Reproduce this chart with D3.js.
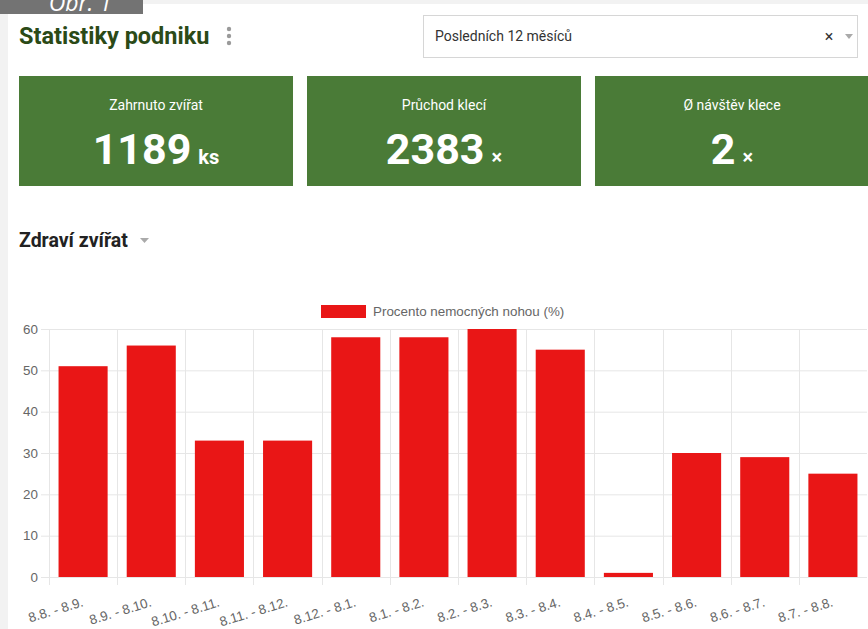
<!DOCTYPE html>
<html>
<head>
<meta charset="utf-8">
<script src="https://cdn.jsdelivr.net/npm/d3@7"></script>
<style>
  body { margin: 0; background: #f2f2f2; }
  svg { display: block; }
</style>
</head>
<body>
<div id="chart"></div>
<script>
// chart data
const categories = ["8.8. - 8.9.", "8.9. - 8.10.", "8.10. - 8.11.", "8.11. - 8.12.", "8.12. - 8.1.", "8.1. - 8.2.",
    "8.2. - 8.3.", "8.3. - 8.4.", "8.4. - 8.5.", "8.5. - 8.6.", "8.6. - 8.7.", "8.7. - 8.8."];
const values = [51, 56, 33, 33, 58, 58, 60, 55, 1, 30, 29, 25];
const yTicks = [0, 10, 20, 30, 40, 50, 60];
const seriesName = "Procento nemocných nohou (%)";

// summary cards
const cardLabels = ["Zahrnuto zvířat", "Průchod klecí", "Ø návštěv klece"];
const cardValues = [1189, 2383, 2];
const cardUnits = ["ks", "×", "×"];

const width = 868, height = 629;
const green = "#4a7b37", red = "#e91616", grid = "#e6e6e6";

const svg = d3.select("#chart").append("svg")
    .attr("width", width)
    .attr("height", height)
    .style("font-family", "Roboto, sans-serif");

// white page panel
svg.append("rect").attr("x", 8).attr("y", 4).attr("width", width - 8).attr("height", height - 4).attr("fill", "#fff");

// "Obr. 1" caption tab (cut off at top, like in the screenshot)
svg.append("rect").attr("x", 0).attr("y", 0).attr("width", 143).attr("height", 14).attr("fill", "#737373");
svg.append("text").attr("x", 112).attr("y", 11).attr("fill", "#fff")
    .style("font-size", "23px").style("font-style", "italic").style("font-family", "Open Sans, sans-serif")
    .attr("text-anchor", "end").text("Obr. 1");

// header
svg.append("text").attr("x", 19).attr("y", 44)
    .attr("fill", "#2b4a17").style("font-size", "23.5px").style("font-weight", "bold")
    .text("Statistiky podniku");
svg.append("g").selectAll("circle").data([29, 36, 43]).join("circle")
    .attr("cx", 229).attr("cy", d => d).attr("r", 2.2).attr("fill", "#9a9a9a");

// period select
svg.append("rect").attr("x", 423.5).attr("y", 15.5).attr("width", 434).attr("height", 42)
    .attr("fill", "#fff").attr("stroke", "#d6d6d6");
svg.append("text").attr("x", 435).attr("y", 41).attr("fill", "#333")
    .style("font-size", "14px").text("Posledních 12 měsíců");
svg.append("text").attr("x", 829).attr("y", 42).attr("fill", "#333").attr("text-anchor", "middle")
    .style("font-size", "16px").text("×");
svg.append("path").attr("d", "M845,34 L853,34 L849,39 Z").attr("fill", "#aaa");

// cards
const cardX = d3.scaleBand().domain(d3.range(cardLabels.length)).range([19, 869]).paddingInner(0.0486);
const cards = svg.append("g").selectAll("g").data(cardLabels).join("g")
    .attr("transform", (d, i) => `translate(${cardX(i)},76)`);
cards.append("rect").attr("width", cardX.bandwidth()).attr("height", 110).attr("fill", green);
cards.append("text").attr("x", cardX.bandwidth() / 2).attr("y", 34)
    .attr("text-anchor", "middle").attr("fill", "#fff").style("font-size", "14px")
    .text(d => d);
const num = cards.append("text").attr("x", cardX.bandwidth() / 2).attr("y", 88)
    .attr("text-anchor", "middle").attr("fill", "#fff").style("font-weight", "bold");
num.append("tspan").style("font-size", "43px").text((d, i) => cardValues[i]);
num.append("tspan").attr("dx", 7).style("font-size", "20px").text((d, i) => cardUnits[i]);

// section title
svg.append("text").attr("x", 19).attr("y", 247).attr("fill", "#222")
    .style("font-size", "19.5px").style("font-weight", "bold").text("Zdraví zvířat");
svg.append("path").attr("d", "M140,238 L149,238 L144.5,243 Z").attr("fill", "#aaa");

// bar chart
const plot = {left: 49, right: 867, top: 329, bottom: 577};
const x = d3.scaleBand().domain(categories).range([plot.left, plot.right])
    .paddingInner(0.28).paddingOuter(0.14);
const y = d3.scaleLinear([0, 60], [plot.bottom, plot.top]);
const edge = d => x(d) - x.step() * x.paddingInner() / 2;

const chart = svg.append("g").style("font-family", "Liberation Sans, Arial, sans-serif");

// horizontal grid
chart.append("g").selectAll("line").data(yTicks).join("line")
    .attr("x1", plot.left - 8).attr("x2", plot.right)
    .attr("y1", d => y(d) + 0.5).attr("y2", d => y(d) + 0.5)
    .attr("stroke", grid);
// vertical grid at category boundaries
chart.append("g").selectAll("line").data(categories).join("line")
    .attr("x1", d => Math.round(edge(d)) + 0.5).attr("x2", d => Math.round(edge(d)) + 0.5)
    .attr("y1", plot.top).attr("y2", plot.bottom + 8)
    .attr("stroke", grid);

// bars
chart.append("g").selectAll("rect").data(values).join("rect")
    .attr("x", (d, i) => x(categories[i]))
    .attr("y", d => y(d))
    .attr("width", x.bandwidth())
    .attr("height", d => y(0) - y(d))
    .attr("fill", red);

// y axis labels
chart.append("g")
    .attr("transform", `translate(${plot.left},0)`)
    .call(d3.axisLeft(y).tickValues(yTicks).tickSize(0).tickPadding(11))
    .call(g => g.select(".domain").remove())
    .selectAll("text")
    .attr("fill", "#666")
    .style("font-size", "13.4px")
    .style("font-family", "Liberation Sans, Arial, sans-serif");

// x axis labels, rotated
chart.append("g")
    .attr("transform", `translate(0,${plot.bottom})`)
    .call(d3.axisBottom(x).tickSize(0))
    .call(g => g.select(".domain").remove())
    .selectAll("text")
    .attr("fill", "#666")
    .style("font-size", "13.4px")
    .style("font-family", "Liberation Sans, Arial, sans-serif")
    .attr("text-anchor", "end")
    .attr("y", 0).attr("dy", 0)
    .attr("transform", "translate(1,29) rotate(-17)");

// legend
const legend = chart.append("g").attr("transform", "translate(321,305)");
legend.append("rect").attr("width", 45).attr("height", 13).attr("fill", red);
legend.append("text").attr("x", 52).attr("y", 11).attr("fill", "#666")
    .style("font-size", "13.4px").text(seriesName);
</script>
</body>
</html>
